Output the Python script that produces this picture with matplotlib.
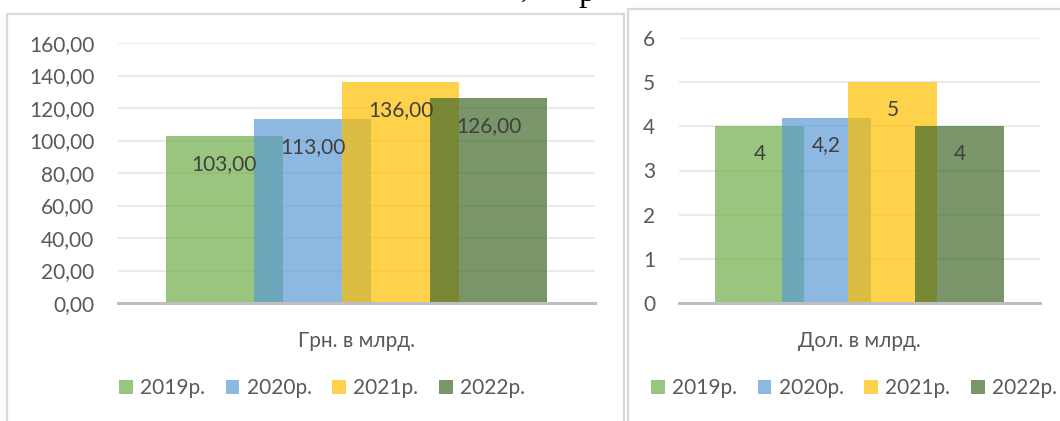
import matplotlib.pyplot as plt
from matplotlib.patches import Patch, Rectangle

plt.rcParams['font.family'] = ['Lato', 'Open Sans', 'DejaVu Sans']

# Data
years = ['2019р.', '2020р.', '2021р.', '2022р.']
uah_values = [103, 113, 136, 126]
uah_labels = ['103,00', '113,00', '136,00', '126,00']
usd_values = [4, 4.2, 5, 4]
usd_labels = ['4', '4,2', '5', '4']
colors = ['#70AD47', '#5B9BD5', '#FFC000', '#40692A']

W, H = 1060, 421
fig = plt.figure(figsize=(W / 100, H / 100), dpi=100)


def px_rect(x0, y0, x1, y1):
    return [x0 / W, 1 - y1 / H, (x1 - x0) / W, (y1 - y0) / H]


# panel frames
for x0, y0, x1, y1 in [(7, 14, 624, 440), (628, 9, 1080, 440)]:
    fig.patches.append(Rectangle((x0 / W, 1 - y1 / H), (x1 - x0) / W, (y1 - y0) / H,
                                 transform=fig.transFigure, fill=False,
                                 edgecolor='#D9D9D9', lw=1.6))

# cut-off text from the page above
fig.text(525 / W, 1 + 3 / H, ',', family='Liberation Serif', fontsize=22,
         va='baseline', ha='center')
fig.text(587 / W, 1 - 1 / H, 'р', family='Liberation Serif', fontsize=24,
         va='baseline', ha='center')

w = 0.8 / 3.25
step = 0.75 * w


def draw(rect, values, labels, yticks, ticklabels, title, legend_x):
    ax = fig.add_axes(px_rect(*rect))
    for i, (v, lbl) in enumerate(zip(values, labels)):
        x = (i - 1.5) * step
        ax.bar(x, v, width=w, color=colors[i], alpha=0.7, lw=0)
        ax.annotate(lbl, xy=(x, v), xytext=(0, -28), textcoords='offset pixels',
                    ha='center', va='center', fontsize=15, color='#404040')
    ax.set_xlim(-0.5, 0.5)
    ax.set_ylim(yticks[0], yticks[-1])
    ax.set_yticks(yticks)
    ax.set_yticklabels(ticklabels)
    ax.set_xticks([])
    ax.tick_params(axis='y', length=0, pad=17, labelsize=15, labelcolor='#595959')
    ax.set_axisbelow(True)
    ax.yaxis.grid(True, color='#EBEBEB', lw=1.5)
    for s in ['top', 'left', 'right']:
        ax.spines[s].set_visible(False)
    ax.spines['bottom'].set_color('#BFBFBF')
    ax.spines['bottom'].set_linewidth(2.2)
    ax.set_xlabel(title, fontsize=15, color='#595959', labelpad=20)
    handles = [Patch(facecolor=c, alpha=0.7, lw=0) for c in colors]
    fig.legend(handles, years, loc='center', bbox_to_anchor=(legend_x / W, 1 - 388 / H),
               ncol=4, frameon=False, fontsize=15, labelcolor='#595959',
               handlelength=0.65, handleheight=0.65, handletextpad=0.35,
               columnspacing=1.0)
    return ax


draw((118, 43, 595, 303), uah_values, uah_labels,
     list(range(0, 161, 20)), [f'{v},00' for v in range(0, 161, 20)],
     'Грн. в млрд.', 322)
draw((679, 38, 1040, 303), usd_values, usd_labels,
     list(range(0, 7)), [str(v) for v in range(0, 7)],
     'Дол. в млрд.', 854)

fig.savefig('out.png', dpi=100, facecolor='white')
